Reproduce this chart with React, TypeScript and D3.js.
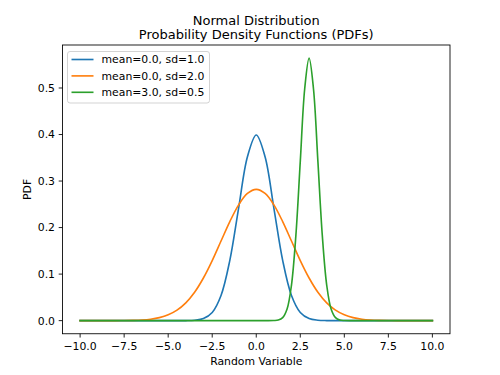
import React from "react";
import * as d3 from "d3";

const seriesNames = ["mean=0.0, sd=1.0", "mean=0.0, sd=2.0", "mean=3.0, sd=0.5"];
const colors = ["#1f77b4", "#ff7f0e", "#2ca02c"];

const blueX = [-10, -6, -5, -4.5, -4, -3.5, -3, -2.5, -2, -1.5, -1, -0.5, 0, 0.5, 1, 1.5, 2, 2.5, 3, 3.5, 4, 4.5, 5, 6, 10];
const blueY = [0, 0, 0, 0, 0.0001, 0.0009, 0.0044, 0.0175, 0.054, 0.1295, 0.242, 0.3521, 0.3989, 0.3521, 0.242, 0.1295, 0.054, 0.0175, 0.0044, 0.0009, 0.0001, 0, 0, 0, 0];

const orangeX = [-10, -9, -8, -7.5, -7, -6.5, -6, -5.5, -5, -4.5, -4, -3.5, -3, -2.5, -2, -1.5, -1, -0.5, 0, 0.5, 1, 1.5, 2, 2.5, 3, 3.5, 4, 4.5, 5, 5.5, 6, 6.5, 7, 7.5, 8, 9, 10];
const orangeY = [0, 0, 0.0001, 0.0002, 0.0006, 0.0014, 0.0031, 0.0064, 0.0124, 0.0225, 0.0382, 0.061, 0.0916, 0.1291, 0.1711, 0.2129, 0.2489, 0.2734, 0.2821, 0.2734, 0.2489, 0.2129, 0.1711, 0.1291, 0.0916, 0.061, 0.0382, 0.0225, 0.0124, 0.0064, 0.0031, 0.0014, 0.0006, 0.0002, 0.0001, 0, 0];

const greenX = [-10, 0, 0.5, 1, 1.25, 1.5, 1.75, 2, 2.25, 2.5, 2.75, 3, 3.25, 3.5, 3.75, 4, 4.25, 4.5, 4.75, 5, 5.5, 6, 10];
const greenY = [0, 0, 0, 0.0002, 0.0012, 0.0063, 0.0248, 0.0764, 0.1832, 0.3422, 0.4979, 0.5642, 0.4979, 0.3422, 0.1832, 0.0764, 0.0248, 0.0063, 0.0012, 0.0002, 0, 0, 0];

const xTicks = [-10, -7.5, -5, -2.5, 0, 2.5, 5, 7.5, 10];
const yTicks = [0, 0.1, 0.2, 0.3, 0.4, 0.5];

const W = 500, H = 375;
const L = 62.5, R = 450, T = 45, B = 333.75;
const FONT = "DejaVu Sans, sans-serif";

function fmt(v: number, d: number) {
  const s = Math.abs(v).toFixed(d);
  return v < 0 ? "\u2212" + s : s;
}

export default function App() {
  const x = d3.scaleLinear().domain([-11, 11]).range([L, R]);
  const yMax = 0.5642;
  const pad = yMax * 0.05;
  const y = d3.scaleLinear().domain([-pad, yMax + pad]).range([B, T]);
  const line = d3
    .line<[number, number]>()
    .x((d) => x(d[0]))
    .y((d) => y(d[1]))
    .curve(d3.curveCatmullRom.alpha(0.5));

  const series = [
    blueX.map((v, i) => [v, blueY[i]] as [number, number]),
    orangeX.map((v, i) => [v, orangeY[i]] as [number, number]),
    greenX.map((v, i) => [v, greenY[i]] as [number, number]),
  ];

  const lw = 1.63;
  const tickLen = 3.8;
  const fs = 10.85;

  const legX = 67.5, legY = 51.5, legW = 142, legH = 51.5;

  return (
    <svg width={W} height={H} style={{ position: "absolute", left: 0, top: 0 }} fontFamily={FONT}>
      <rect x={0} y={0} width={W} height={H} fill="#fff" />
      <text x={256.25} y={25} textAnchor="middle" fontSize={13} fill="#000">Normal Distribution</text>
      <text x={256.25} y={38.5} textAnchor="middle" fontSize={13} fill="#000">Probability Density Functions (PDFs)</text>
      <defs>
        <clipPath id="clip">
          <rect x={L} y={T} width={R - L} height={B - T} />
        </clipPath>
      </defs>
      <g clipPath="url(#clip)">
        {series.map((s, i) => (
          <path key={i} d={line(s) || ""} fill="none" stroke={colors[i]} strokeWidth={lw} strokeLinejoin="round" strokeLinecap="square" />
        ))}
      </g>
      <rect x={L} y={T} width={R - L} height={B - T} fill="none" stroke="#000" strokeWidth={0.87} />
      {xTicks.map((t) => (
        <g key={t}>
          <line x1={x(t)} x2={x(t)} y1={B} y2={B + tickLen} stroke="#000" strokeWidth={0.87} />
          <text x={x(t)} y={B + 16} textAnchor="middle" fontSize={fs} fill="#000">{fmt(t, 1)}</text>
        </g>
      ))}
      {yTicks.map((t) => (
        <g key={t}>
          <line x1={L} x2={L - tickLen} y1={y(t)} y2={y(t)} stroke="#000" strokeWidth={0.87} />
          <text x={L - 7.5} y={y(t)} dy="0.36em" textAnchor="end" fontSize={fs} fill="#000">{fmt(t, 1)}</text>
        </g>
      ))}
      <text x={256.25} y={364.5} textAnchor="middle" fontSize={fs} fill="#000">Random Variable</text>
      <text transform={`translate(31, ${(T + B) / 2}) rotate(-90)`} textAnchor="middle" fontSize={fs} fill="#000">PDF</text>
      <rect x={legX} y={legY} width={legW} height={legH} rx={2.5} fill="#fff" fillOpacity={0.8} stroke="#cccccc" strokeWidth={0.87} />
      {seriesNames.map((n, i) => (
        <g key={n}>
          <line x1={71.5} x2={93.5} y1={59.5 + i * 16.4} y2={59.5 + i * 16.4} stroke={colors[i]} strokeWidth={lw} />
          <text x={101.5} y={59.5 + i * 16.4} dy="0.36em" fontSize={fs} fill="#000">{n}</text>
        </g>
      ))}
    </svg>
  );
}
